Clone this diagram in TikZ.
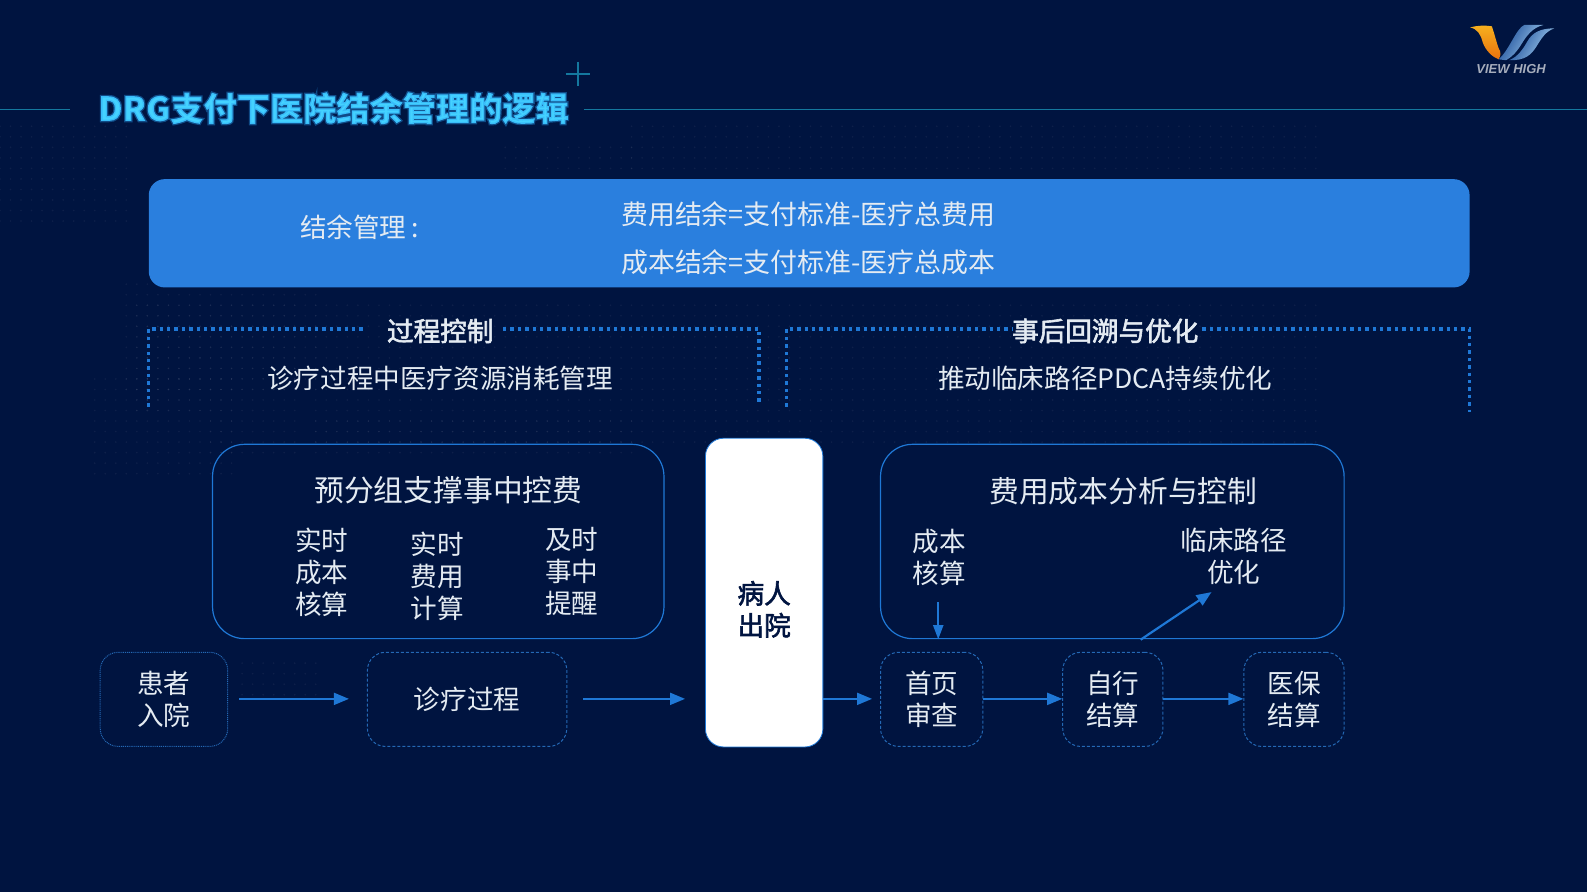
\documentclass[tikz,border=0pt]{standalone}
\usepackage{fontspec}
\usetikzlibrary{arrows.meta,calc}
\setmainfont{Noto Sans CJK SC}
\newfontfamily\cjkbold[FakeBold=2.2]{Noto Sans CJK SC}
\newfontfamily\logofont{Liberation Sans}
\newcommand{\fs}[1]{\fontsize{#1}{32}\selectfont}
\definecolor{bgc}{HTML}{001440}
\definecolor{bluec}{HTML}{2A7FDE}
\definecolor{linec}{HTML}{1F78D6}
\definecolor{dashc}{HTML}{2468B4}
\definecolor{txt}{HTML}{E4EBF2}
\definecolor{cyanc}{HTML}{44D2FF}
\definecolor{rulec}{HTML}{14789E}
\definecolor{logolo}{HTML}{1A4C98}
\definecolor{logohi}{HTML}{A8D2F2}
\definecolor{logoy}{HTML}{F7B01E}
\definecolor{logor}{HTML}{E8720E}
\tikzset{
  x=1.01212pt,y=-1.01212pt,
  txtn/.style={text=txt,align=center,font=\fs{26.6},inner sep=0pt},
  boldn/.style={text=txt,align=center,font=\cjkbold\fs{26.6},inner sep=0pt},
  panel/.style={draw=linec,line width=1.2pt,rounded corners=32pt,inner sep=0pt},
  dotbox/.style={draw=dashc,line width=1pt,dash pattern=on 1pt off .9pt,rounded corners=18pt,inner sep=0pt,text=txt,align=center,font=\fs{26.6}},
  dashbox/.style={draw=dashc,line width=1pt,dash pattern=on 3pt off 2pt,rounded corners=18pt,inner sep=0pt,text=txt,align=center,font=\fs{26.6}},
  flow/.style={draw=linec,line width=1.8pt,-{Triangle[length=15pt,width=12pt]}},
  bracket/.style={draw=linec,line width=3.2pt,dash pattern=on 3.4pt off 4pt},
}
\begin{document}
\begin{tikzpicture}
\useasboundingbox (0,0) rectangle (1568,881.3);
\fill[bgc] (0,0) rectangle (1568,881.3);
% faint dotted world map
\foreach \xa/\xb/\ya/\yb in {0/12/12/21,13/28/29/39,20/28/40/43,48/60/14/16,30/60/40/43,12/30/27/37,9/22/36/45,23/30/63/66,30/68/29/42,68/125/29/42,60/125/12/16}{
  \foreach \ii in {\xa,...,\xb}{
    \foreach \jj in {\ya,...,\yb}{
      \fill[white,opacity=.055] (\ii*10.4,\jj*10.4) circle (.9pt);
    }
  }
}
% title rule and plus
\coordinate (ruleA) at (0,108); \coordinate (ruleB) at (69,108);
\coordinate (ruleC) at (577,108); \coordinate (ruleD) at (1568,108);
\draw[rulec,line width=1pt] (ruleA)--(ruleB) (ruleC)--(ruleD);
\draw[rulec,line width=1.6pt] (559,73)--(583,73) (571,61)--(571,85);
\node[anchor=west,inner sep=0pt,text=cyanc] (title) at (97,107) {\bfseries\fontsize{33.2}{36}\selectfont\special{pdf:code 2 Tr 2.6 w 0.16 0.62 0.95 RG}\pgfsetstrokeopacity{.4}DRG支付下医院结余管理的逻辑};
% logo
\begin{scope}
\shade[top color=logoy,bottom color=logor] (1452.6,27) .. controls (1460,25) and (1468,25) .. (1474,26) .. controls (1478,38) and (1480,48) .. (1482,50) .. controls (1483,54) and (1482,57) .. (1480.6,58.6) .. controls (1474,56) and (1468,50) .. (1465,42) .. controls (1463,34) and (1460,29) .. (1452.6,27) -- cycle;
\shade[left color=logolo,right color=logohi,shading angle=60] (1480.6,58.6) .. controls (1491,50) and (1498,28) .. (1506,24.7) -- (1525,24.7) .. controls (1515,27) and (1509,34) .. (1503,44) .. controls (1498,52) and (1494,56) .. (1488,59.5) -- cycle;
\shade[left color=logolo,right color=logohi,shading angle=60] (1491,59.5) .. controls (1500,56) and (1505,48) .. (1509,41) .. controls (1514,32) and (1522,28) .. (1535.7,28) .. controls (1527,31) and (1523,38) .. (1518,46) .. controls (1513,54) and (1507,60) .. (1491,59.5) -- cycle;
\end{scope}
\node[inner sep=0pt,text=white!65!bgc] (logo) at (1493,68) {\logofont\bfseries\itshape\fontsize{13}{14}\selectfont VIEW HIGH};
% banner
\fill[bluec,rounded corners=16pt] (147,177) rectangle (1452,284);
\node[txtn] (bal) at (355,225) {结余管理\,:};
\node[txtn,font=\fs{26.9}] (f1) at (798.5,212) {费用结余=支付标准-医疗总费用};
\node[txtn,font=\fs{26.9}] (f2) at (798.5,259) {成本结余=支付标准-医疗总成本};
% brackets
\node[boldn] (pc) at (435,327) {过程控制};
\node[boldn] (ph) at (1092,327) {事后回溯与优化};
\node[txtn] (pcs) at (435,374) {诊疗过程中医疗资源消耗管理};
\node[txtn] (phs) at (1092,374) {推动临床路径PDCA持续优化};
\coordinate (la) at (147,402); \coordinate (lb) at (750,400);
\coordinate (ra) at (777,402); \coordinate (rb) at (1452,407);
\draw[bracket] (la) -- (147,325) -- (360,325);
\draw[bracket] (497,325) -- (750,325) -- (lb);
\draw[bracket] (ra) -- (777,325) -- (1000,325);
\draw[bracket] (1188,325) -- (1452,325) -- (rb);
% panels
\node[panel,minimum width=446*1.01212pt,minimum height=192*1.01212pt] (left) at (433,535) {};
\node[panel,minimum width=458*1.01212pt,minimum height=192*1.01212pt] (right) at (1099,535) {};
\node[txtn,font=\fs{29.8}] (lt) at (443,484) {预分组支撑事中控费};
\node[txtn,font=\fs{29.8}] (rt) at (1110,485) {费用成本分析与控制};
\node[txtn] (l1) at (318,565) {实时\\成本\\核算};
\node[txtn] (l2) at (432,569) {实时\\费用\\计算};
\node[txtn] (l3) at (565,565) {及时\\事中\\提醒};
\node[txtn] (r1) at (928,551) {成本\\核算};
\node[txtn] (r2) at (1219,550) {临床路径\\优化};
% patient out
\node[fill=white,draw=linec,line width=.8pt,rounded corners=18pt,minimum width=116*1.01212pt,minimum height=305*1.01212pt,inner sep=0pt] (out) at (755,585.5) {};
\node[inner sep=0pt,text=bgc,align=center,font=\cjkbold\fs{26.6}] (outt) at (755,602) {病人\\出院};
% flow boxes
\node[dotbox,minimum width=126*1.01212pt,minimum height=93*1.01212pt] (in) at (162,691) {患者\\入院};
\node[dashbox,minimum width=197*1.01212pt,minimum height=93*1.01212pt] (proc) at (461.5,691) {诊疗过程};
\node[dashbox,minimum width=101*1.01212pt,minimum height=93*1.01212pt] (fp) at (920.5,691) {首页\\审查};
\node[dashbox,minimum width=99*1.01212pt,minimum height=93*1.01212pt] (sf) at (1099.5,691) {自行\\结算};
\node[dashbox,minimum width=99*1.01212pt,minimum height=93*1.01212pt] (ms) at (1278.5,691) {医保\\结算};
% arrows
\draw[flow,shorten <=11pt,shorten >=18pt] (in.east|-0,690.5) -- (proc.west|-0,690.5);
\draw[flow,shorten <=16pt,shorten >=20pt] (proc.east|-0,690.5) -- (out.west|-0,690.5);
\draw[flow,shorten >=8pt] (out.east|-0,690.5) -- (fp.west|-0,690.5);
\draw[flow] (fp.east|-0,690.5) -- (sf.west|-0,690.5);
\draw[flow] (sf.east|-0,690.5) -- (ms.west|-0,690.5);
\coordinate (dnA) at (927,595); \coordinate (upA) at (1127,632); \coordinate (upB) at (1197,585);
\draw[flow,-{Triangle[length=14pt,width=10pt]}] (dnA) -- (dnA|-right.south);
\draw[flow,line width=2.2pt,-{Triangle[length=15pt,width=12pt]}] (upA) -- (upB);
\end{tikzpicture}
\end{document}
